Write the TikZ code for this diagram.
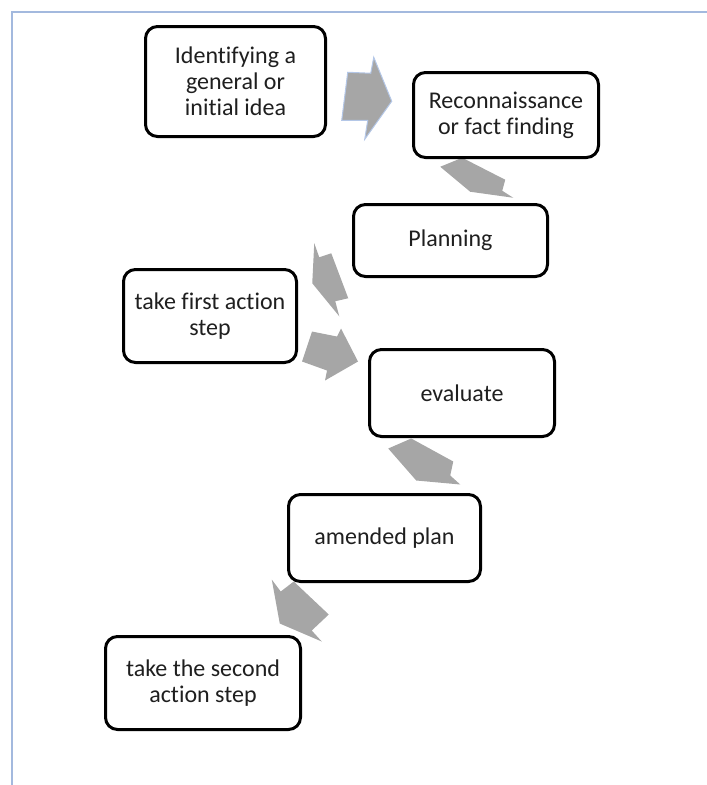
\documentclass[tikz,border=0pt]{standalone}
\usepackage{fontspec}
\setmainfont{Carlito}[Ligatures={NoCommon}]
\usetikzlibrary{calc}
\pgfdeclarelayer{edgelayer}
\pgfdeclarelayer{nodelayer}
\pgfsetlayers{edgelayer,nodelayer,main}
\definecolor{framecol}{HTML}{A3B9DE}
\definecolor{arrowgrey}{HTML}{A6A6A6}
\definecolor{arrowedge}{HTML}{B4C7E7}
\definecolor{textgrey}{HTML}{1F1F1F}
\tikzstyle{stepbox}=[rectangle,rounded corners=12pt,fill=white,draw=black,line width=3pt,text=textgrey,align=center,font=\fontsize{24}{26}\selectfont]
\tikzstyle{blockarrow}=[fill=arrowgrey,draw=none]

\begin{document}
\begin{tikzpicture}[x=1pt,y=-1pt]
	\useasboundingbox (0,0) rectangle (707,785);
	\draw [framecol, line width=1.5pt] (12,785) -- (12,12) -- (707,12);
	\begin{pgfonlayer}{nodelayer}
		\node [style=stepbox, minimum width=180pt, minimum height=110pt] (idea) at (235.5, 81.5) {Identifying a\\general or\\initial idea};
		\node [style=stepbox, minimum width=185pt, minimum height=85pt] (recon) at (506, 115) {Reconnaissance\\or fact finding};
		\node [style=stepbox, minimum width=194pt, minimum height=72pt] (plan) at (450.5, 240.5) {Planning};
		\node [style=stepbox, minimum width=173pt, minimum height=93pt] (first) at (210, 316) {take first action\\step};
		\node [style=stepbox, minimum width=185pt, minimum height=87pt] (eval) at (462, 393) {evaluate};
		\node [style=stepbox, minimum width=192pt, minimum height=87pt] (amend) at (384.5, 538) {amended plan};
		\node [style=stepbox, minimum width=195pt, minimum height=93pt] (second) at (203, 683) {take the second\\action step};
	\end{pgfonlayer}
	\begin{pgfonlayer}{edgelayer}
		\coordinate (m1) at ($(idea)!0.5!(recon)$);
		\coordinate (m2) at ($(recon)!0.5!(plan)$);
		\coordinate (m3) at ($(plan)!0.5!(first)$);
		\coordinate (m4) at ($(first)!0.5!(eval)$);
		\coordinate (m5) at ($(eval)!0.5!(amend)$);
		\coordinate (m6) at ($(amend)!0.5!(second)$);
		\filldraw [style=blockarrow, draw=arrowedge, line width=1pt, shift={(m1)}] (-23,-26) -- (0,-25) -- (3,-41) -- (21,3) -- (-6,41) -- (-3,22) -- (-29,22) -- cycle;
		\fill [style=blockarrow, shift={(m2)}] (-38,-11) -- (-16,-20) -- (27,2) -- (24,13) -- (35,20) -- (-8,14) -- cycle;
		\fill [style=blockarrow, shift={(m3)}] (-16,-35) -- (-11,-21) -- (1,-25) -- (18,20) -- (5,23) -- (9,38) -- (-18,5) -- cycle;
		\fill [style=blockarrow, shift={(m4)}] (-24,-23) -- (1,-18) -- (5,-26) -- (22,7) -- (-11,26) -- (-9,16) -- (-34,7) -- cycle;
		\fill [style=blockarrow, shift={(m5)}] (-35,-17) -- (-12,-27) -- (30,-4) -- (27,10) -- (37,19) -- (-7,15) -- cycle;
		\fill [style=blockarrow, shift={(m6)}] (-22,-31) -- (-13,-19) -- (0,-29) -- (35,4) -- (18,20) -- (28,31) -- (-14,13) -- cycle;
	\end{pgfonlayer}
\end{tikzpicture}
\end{document}
